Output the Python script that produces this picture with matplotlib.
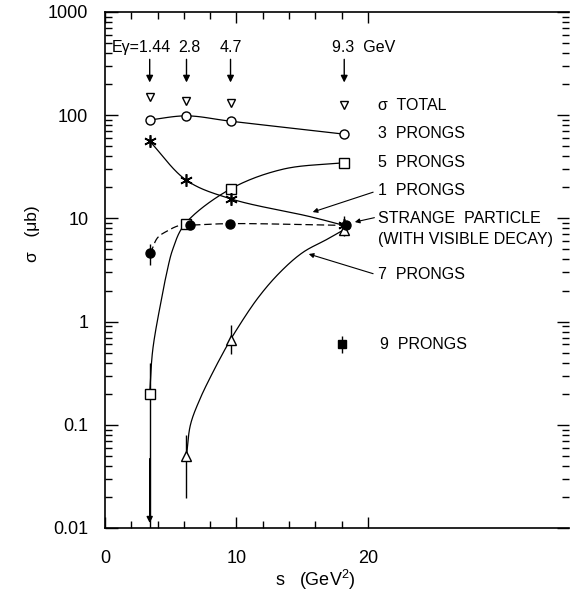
import matplotlib
matplotlib.use("Agg")
import matplotlib.pyplot as plt
from matplotlib.ticker import FixedLocator, FixedFormatter, LogLocator, NullFormatter
import numpy as np

plt.rcParams["font.family"] = ["Liberation Sans", "DejaVu Sans"]
plt.rcParams["mathtext.fontset"] = "custom"
plt.rcParams["mathtext.rm"] = "Liberation Sans"
plt.rcParams["mathtext.default"] = "regular"

# photon energies (GeV) and the matching s (GeV^2)
e_gamma = ["1.44", "2.8", "4.7", "9.3"]
s_pts = [3.4, 6.2, 9.55, 18.2]

# cross sections (microbarn)
sig_total = [150, 138, 131, 125]
prong3 = [90, 98.5, 87.5, 65.5]
prong5 = [0.2, 8.75, 19.1, 34.7]
prong5_err = [(0.01, 0.40), None, None, None]
prong1 = [56, 23.4, 15.5, 8.55]
prong1_err = [(50, 62), None, (14.1, 17.0), None]
strange_s = [3.45, 6.45, 9.5, 18.3]
strange = [4.57, 8.55, 8.9, 8.55]
strange_err = [(3.57, 5.7), None, None, None]
prong7_s = [6.2, 9.55, 18.2]
prong7 = [0.05, 0.67, 7.8]
prong7_err = [(0.0195, 0.079), (0.48, 0.93), (6.7, 10.5)]
prong9_s = [18.0]
prong9 = [0.6]
prong9_err = [(0.50, 0.73)]

# hand drawn curves, knots
fit1_s = [3.4, 6.2, 9.55, 15.6, 18.4]
fit1_v = [56, 23.4, 15.5, 10.4, 8.4]
fit5_s = [3.4, 3.63, 4.29, 4.67, 5.15, 6.06, 9.49, 13.5, 18.2]
fit5_v = [0.2, 0.53, 1.64, 2.86, 5.0, 8.75, 19.1, 29.9, 34.7]
fit7_s = [6.2, 6.5, 7.2, 8.19, 9.1, 9.55, 11.55, 13.3, 15.05, 16.87, 18.2]
fit7_v = [0.05, 0.1, 0.175, 0.32, 0.53, 0.67, 1.64, 2.99, 4.68, 6.25, 7.8]
fitk_s = [3.45, 4.0, 4.69, 5.68, 6.45, 9.5, 18.3]
fitk_v = [4.57, 6.5, 7.5, 8.55, 8.6, 8.9, 8.55]

labels = ["\u03c3  TOTAL", "3  PRONGS", "5  PRONGS", "1  PRONGS",
          "STRANGE  PARTICLE", "(WITH VISIBLE DECAY)", "7  PRONGS", "9  PRONGS"]
label_v = [125, 66.8, 35, 18.7, 10.0, 6.3, 2.86, 0.6]


def smooth(xs, ys, n=40):
    # centripetal catmull-rom through the knots, in roughly pixel space
    p = np.column_stack([np.asarray(xs, float) * 13.1, np.log10(ys) * 103])
    p = np.vstack([2 * p[0] - p[1], p, 2 * p[-1] - p[-2]])
    out = []
    for i in range(1, len(p) - 2):
        p0, p1, p2, p3 = p[i - 1:i + 3]
        t0 = 0.0
        t1 = t0 + np.linalg.norm(p1 - p0) ** 0.5
        t2 = t1 + np.linalg.norm(p2 - p1) ** 0.5
        t3 = t2 + np.linalg.norm(p3 - p2) ** 0.5
        t = np.linspace(t1, t2, n)[:, None]
        a1 = (t1 - t) / (t1 - t0) * p0 + (t - t0) / (t1 - t0) * p1
        a2 = (t2 - t) / (t2 - t1) * p1 + (t - t1) / (t2 - t1) * p2
        a3 = (t3 - t) / (t3 - t2) * p2 + (t - t2) / (t3 - t2) * p3
        b1 = (t2 - t) / (t2 - t0) * a1 + (t - t0) / (t2 - t0) * a2
        b2 = (t3 - t) / (t3 - t1) * a2 + (t - t1) / (t3 - t1) * a3
        out.append((t2 - t) / (t2 - t1) * b1 + (t - t1) / (t2 - t1) * b2)
    c = np.vstack(out)
    return c[:, 0] / 13.1, 10 ** (c[:, 1] / 103)


def bars(ax, xs, errs):
    for x, e in zip(xs, errs):
        if e is not None:
            ax.vlines(x, e[0], e[1], colors="k", lw=1.0, zorder=2)


fig = plt.figure(figsize=(5.7, 6), dpi=100)
ax = fig.add_axes([105 / 570, 72 / 600, 464 / 570, 516 / 600])
ax.set_yscale("log")
ax.set_xlim(0, 35.3)
ax.set_ylim(0.01, 1000)

# curves
ax.plot(*smooth(s_pts, prong3), "k-", lw=0.9)
ax.plot(*smooth(fit1_s, fit1_v), "k-", lw=0.9)
ax.plot(*smooth(fit5_s, fit5_v), "k-", lw=0.9)
ax.plot(*smooth(fit7_s, fit7_v), "k-", lw=0.9)
ax.plot(*smooth(fitk_s, fitk_v), "k--", lw=0.9, dashes=(6, 3))

# error bars
bars(ax, s_pts, prong5_err)
bars(ax, s_pts, prong1_err)
bars(ax, strange_s, strange_err)
bars(ax, prong7_s, prong7_err)
bars(ax, prong9_s, prong9_err)
ax.annotate("", xy=(s_pts[0], 0.0105), xytext=(s_pts[0], 0.05),
            arrowprops=dict(arrowstyle="-|>", color="k", lw=1.0, mutation_scale=9))

# markers
ax.plot(s_pts, sig_total, "v", ms=6, mfc="white", mec="k", mew=1.0, zorder=4)
ax.plot(s_pts, prong3, "o", ms=6.5, mfc="white", mec="k", mew=1.0, zorder=4)
ax.plot(s_pts, prong5, "s", ms=7, mfc="white", mec="k", mew=1.0, zorder=4)
ax.plot(s_pts, prong1, marker=(6, 2, 0), ls="none", ms=9, mec="k", mew=1.2, zorder=4)
ax.plot(strange_s, strange, "o", ms=6.5, color="k", zorder=5)
ax.plot(prong7_s, prong7, "^", ms=7, mfc="white", mec="k", mew=1.0, zorder=4)
ax.plot(prong9_s, prong9, "s", ms=6, color="k", zorder=4)

# photon energy arrows
for s, e in zip(s_pts, e_gamma):
    ax.annotate("", xy=(s, 195), xytext=(s, 370),
                arrowprops=dict(arrowstyle="-|>", color="k", lw=1.0, mutation_scale=10))
ax.text(s_pts[0] + 1.6, 457, "E\u03b3=" + e_gamma[0], ha="right", va="center", fontsize=11.5)
ax.text(s_pts[1] + 0.25, 457, e_gamma[1], ha="center", va="center", fontsize=11.5)
ax.text(s_pts[2] + 0.05, 457, e_gamma[2], ha="center", va="center", fontsize=11.5)
ax.text(s_pts[3] - 0.95, 457, e_gamma[3] + "  GeV", ha="left", va="center", fontsize=11.5)

# labels at the right
for lab, v in zip(labels, label_v):
    x = 20.9 if lab.startswith("9") else 20.75
    ax.text(x, v, lab, ha="left", va="center", fontsize=11.5)

arr = dict(arrowstyle="-|>", color="k", lw=0.8, mutation_scale=7)
ax.annotate("", xy=(15.6, 11.3), xytext=(20.6, 18.3), arrowprops=arr)
ax.annotate("", xy=(18.8, 9.1), xytext=(20.7, 10.3), arrowprops=arr)
ax.annotate("", xy=(15.3, 4.6), xytext=(20.6, 2.86), arrowprops=arr)

# axes styling
ax.spines["right"].set_visible(False)
for sp in ["left", "bottom", "top"]:
    ax.spines[sp].set_linewidth(1.2)
ax.xaxis.set_major_locator(FixedLocator([0, 10, 20]))
ax.xaxis.set_minor_locator(FixedLocator([2, 4, 6, 8, 12, 14, 16, 18]))
ax.xaxis.set_major_formatter(FixedFormatter(["0", "10", "20"]))
ax.yaxis.set_major_locator(FixedLocator([0.01, 0.1, 1, 10, 100, 1000]))
ax.yaxis.set_major_formatter(FixedFormatter(["0.01", "0.1", "1", "10", "100", "1000"]))
ax.yaxis.set_minor_locator(LogLocator(base=10, subs=np.arange(2, 10), numticks=20))
ax.yaxis.set_minor_formatter(NullFormatter())
ax.tick_params(axis="both", which="both", direction="in", top=True, right=True, width=1.0)
ax.tick_params(axis="y", which="major", length=9, pad=12, labelsize=13)
ax.tick_params(axis="y", which="minor", length=5)
ax.tick_params(axis="x", which="major", length=8, pad=16, labelsize=13)
ax.tick_params(axis="x", which="minor", length=5)

fig.text(32 / 570, 1 - 234 / 600, "\u03c3   (\u03bcb)", rotation=90, ha="center", va="center", fontsize=12.5)
fig.text(315 / 570, 1 - 580 / 600, "s   (GeV$^2$)", ha="center", va="center", fontsize=13)

fig.savefig("out.png", dpi=100)
